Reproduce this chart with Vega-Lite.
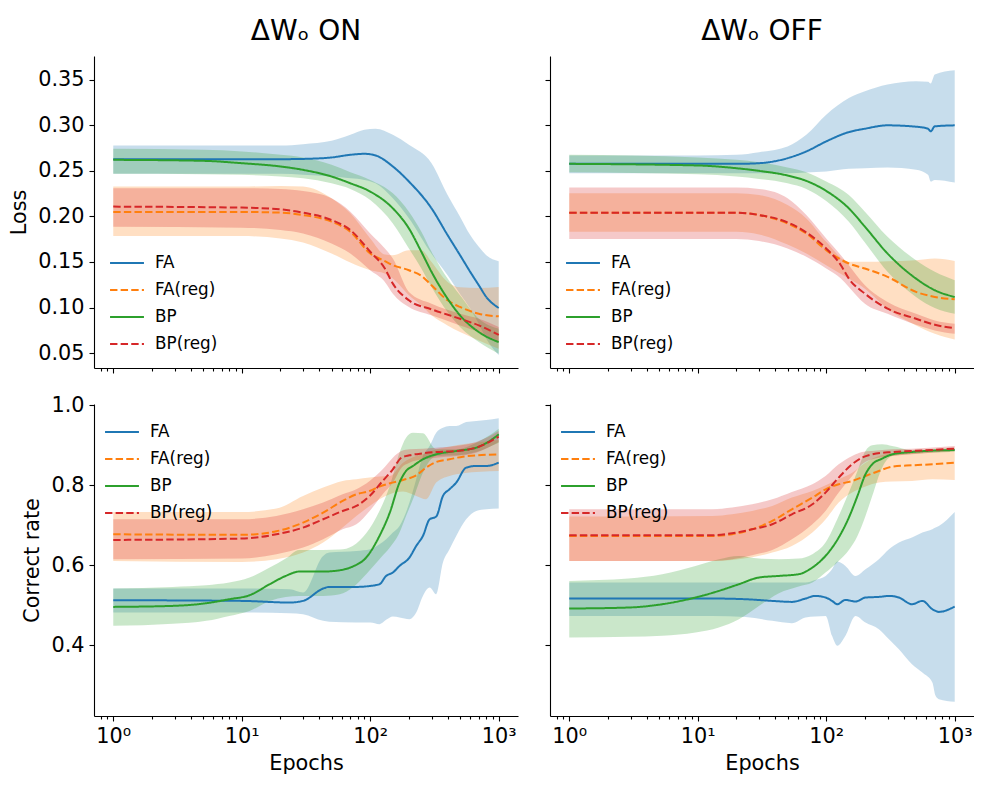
{
"$schema": "https://vega.github.io/schema/vega-lite/v6.json",
"background": "white",
"padding": {"left": 8, "top": 18, "right": 0, "bottom": 0},
"columns": 2,
"spacing": {"row": 20, "column": 26},
"config": {
  "view": {"stroke": null},
  "font": "DejaVu Sans",
  "axis": {"domainColor": "black", "tickColor": "black", "domainWidth": 1.1, "tickWidth": 1.1, "labelColor": "black", "titleColor": "black", "labelFont": "DejaVu Sans", "titleFont": "DejaVu Sans", "labelFontSize": 20.8, "titleFontSize": 20.8, "titleFontWeight": "normal", "grid": false, "tickSize": 5, "labelPadding": 5, "titlePadding": 8},
  "legend": {"symbolType": "stroke", "symbolSize": 1150, "symbolStrokeWidth": 2, "labelFontSize": 16.8, "labelFont": "DejaVu Sans", "labelColor": "black", "labelOffset": 10, "padding": 0, "rowPadding": -10},
  "title": {"font": "DejaVu Sans", "fontSize": 28, "fontWeight": "normal", "color": "black", "anchor": "middle", "baseline": "alphabetic", "offset": 10}
},
"resolve": {"scale": {"x": "independent", "y": "independent", "color": "independent", "fill": "independent", "strokeDash": "independent"}},
"datasets": {"d": [
{"panel":"a","series":"FA","epoch":1,"mean":0.2627,"lo":0.2466,"hi":0.2778},
{"panel":"a","series":"FA","epoch":10,"mean":0.2627,"lo":0.2466,"hi":0.2778},
{"panel":"a","series":"FA","epoch":20,"mean":0.2627,"lo":0.2466,"hi":0.2778},
{"panel":"a","series":"FA","epoch":30,"mean":0.263,"lo":0.2455,"hi":0.2792},
{"panel":"a","series":"FA","epoch":50,"mean":0.2646,"lo":0.2437,"hi":0.2829},
{"panel":"a","series":"FA","epoch":70,"mean":0.2675,"lo":0.2418,"hi":0.2895},
{"panel":"a","series":"FA","epoch":90,"mean":0.2686,"lo":0.240,"hi":0.295},
{"panel":"a","series":"FA","epoch":110,"mean":0.2668,"lo":0.2363,"hi":0.2961},
{"panel":"a","series":"FA","epoch":150,"mean":0.2547,"lo":0.2199,"hi":0.2895},
{"panel":"a","series":"FA","epoch":200,"mean":0.2382,"lo":0.198,"hi":0.2785},
{"panel":"a","series":"FA","epoch":300,"mean":0.2088,"lo":0.159,"hi":0.2583},
{"panel":"a","series":"FA","epoch":400,"mean":0.1795,"lo":0.1355,"hi":0.2235},
{"panel":"a","series":"FA","epoch":500,"mean":0.1575,"lo":0.115,"hi":0.1997},
{"panel":"a","series":"FA","epoch":600,"mean":0.1392,"lo":0.099,"hi":0.1795},
{"panel":"a","series":"FA","epoch":700,"mean":0.1245,"lo":0.082,"hi":0.1667},
{"panel":"a","series":"FA","epoch":800,"mean":0.1117,"lo":0.066,"hi":0.1575},
{"panel":"a","series":"FA","epoch":1000,"mean":0.0996,"lo":0.048,"hi":0.1509},
{"panel":"a","series":"FA(reg)","epoch":1,"mean":0.2048,"lo":0.1784,"hi":0.2327},
{"panel":"a","series":"FA(reg)","epoch":10,"mean":0.2048,"lo":0.1784,"hi":0.2327},
{"panel":"a","series":"FA(reg)","epoch":20,"mean":0.2041,"lo":0.1758,"hi":0.2334},
{"panel":"a","series":"FA(reg)","epoch":30,"mean":0.2015,"lo":0.1714,"hi":0.2327},
{"panel":"a","series":"FA(reg)","epoch":50,"mean":0.1942,"lo":0.1593,"hi":0.2198},
{"panel":"a","series":"FA(reg)","epoch":70,"mean":0.1832,"lo":0.1494,"hi":0.2033},
{"panel":"a","series":"FA(reg)","epoch":100,"mean":0.1593,"lo":0.141,"hi":0.1758},
{"panel":"a","series":"FA(reg)","epoch":130,"mean":0.1509,"lo":0.1373,"hi":0.1582},
{"panel":"a","series":"FA(reg)","epoch":150,"mean":0.1465,"lo":0.1318,"hi":0.1575},
{"panel":"a","series":"FA(reg)","epoch":200,"mean":0.141,"lo":0.1135,"hi":0.163},
{"panel":"a","series":"FA(reg)","epoch":250,"mean":0.1348,"lo":0.1025,"hi":0.163},
{"panel":"a","series":"FA(reg)","epoch":300,"mean":0.1245,"lo":0.0915,"hi":0.150},
{"panel":"a","series":"FA(reg)","epoch":400,"mean":0.108,"lo":0.0805,"hi":0.1282},
{"panel":"a","series":"FA(reg)","epoch":500,"mean":0.1007,"lo":0.0732,"hi":0.1223},
{"panel":"a","series":"FA(reg)","epoch":700,"mean":0.0933,"lo":0.064,"hi":0.1216},
{"panel":"a","series":"FA(reg)","epoch":1000,"mean":0.0904,"lo":0.0548,"hi":0.1227},
{"panel":"a","series":"BP","epoch":1,"mean":0.262,"lo":0.2466,"hi":0.2741},
{"panel":"a","series":"BP","epoch":5,"mean":0.2609,"lo":0.2462,"hi":0.273},
{"panel":"a","series":"BP","epoch":10,"mean":0.2583,"lo":0.2455,"hi":0.2712},
{"panel":"a","series":"BP","epoch":20,"mean":0.2547,"lo":0.2437,"hi":0.2675},
{"panel":"a","series":"BP","epoch":30,"mean":0.251,"lo":0.2418,"hi":0.2646},
{"panel":"a","series":"BP","epoch":50,"mean":0.2437,"lo":0.2363,"hi":0.2565},
{"panel":"a","series":"BP","epoch":70,"mean":0.2363,"lo":0.2301,"hi":0.2484},
{"panel":"a","series":"BP","epoch":100,"mean":0.2272,"lo":0.218,"hi":0.24},
{"panel":"a","series":"BP","epoch":150,"mean":0.2088,"lo":0.1923,"hi":0.2253},
{"panel":"a","series":"BP","epoch":200,"mean":0.1868,"lo":0.1648,"hi":0.2052},
{"panel":"a","series":"BP","epoch":250,"mean":0.1612,"lo":0.1428,"hi":0.1832},
{"panel":"a","series":"BP","epoch":300,"mean":0.1392,"lo":0.1227,"hi":0.1612},
{"panel":"a","series":"BP","epoch":400,"mean":0.1098,"lo":0.0951,"hi":0.1318},
{"panel":"a","series":"BP","epoch":500,"mean":0.0915,"lo":0.0787,"hi":0.1135},
{"panel":"a","series":"BP","epoch":700,"mean":0.0732,"lo":0.0622,"hi":0.0878},
{"panel":"a","series":"BP","epoch":1000,"mean":0.0622,"lo":0.0493,"hi":0.0768},
{"panel":"a","series":"BP(reg)","epoch":1,"mean":0.2107,"lo":0.1887,"hi":0.2308},
{"panel":"a","series":"BP(reg)","epoch":10,"mean":0.2096,"lo":0.1876,"hi":0.2308},
{"panel":"a","series":"BP(reg)","epoch":20,"mean":0.2077,"lo":0.185,"hi":0.2301},
{"panel":"a","series":"BP(reg)","epoch":30,"mean":0.2041,"lo":0.1813,"hi":0.2279},
{"panel":"a","series":"BP(reg)","epoch":50,"mean":0.196,"lo":0.1703,"hi":0.2198},
{"panel":"a","series":"BP(reg)","epoch":70,"mean":0.185,"lo":0.1593,"hi":0.2052},
{"panel":"a","series":"BP(reg)","epoch":100,"mean":0.1612,"lo":0.141,"hi":0.1813},
{"panel":"a","series":"BP(reg)","epoch":130,"mean":0.1428,"lo":0.1282,"hi":0.1648},
{"panel":"a","series":"BP(reg)","epoch":150,"mean":0.1263,"lo":0.1153,"hi":0.1538},
{"panel":"a","series":"BP(reg)","epoch":200,"mean":0.108,"lo":0.1007,"hi":0.1172},
{"panel":"a","series":"BP(reg)","epoch":300,"mean":0.0981,"lo":0.0915,"hi":0.1043},
{"panel":"a","series":"BP(reg)","epoch":500,"mean":0.0878,"lo":0.0805,"hi":0.0933},
{"panel":"a","series":"BP(reg)","epoch":700,"mean":0.0805,"lo":0.0732,"hi":0.0878},
{"panel":"a","series":"BP(reg)","epoch":1000,"mean":0.0702,"lo":0.0622,"hi":0.0787},
{"panel":"b","series":"FA","epoch":1,"mean":0.2576,"lo":0.2473,"hi":0.2668},
{"panel":"b","series":"FA","epoch":10,"mean":0.2576,"lo":0.2473,"hi":0.2668},
{"panel":"b","series":"FA","epoch":20,"mean":0.2576,"lo":0.2473,"hi":0.2675},
{"panel":"b","series":"FA","epoch":30,"mean":0.2583,"lo":0.2473,"hi":0.2704},
{"panel":"b","series":"FA","epoch":50,"mean":0.2638,"lo":0.2473,"hi":0.2767},
{"panel":"b","series":"FA","epoch":70,"mean":0.2712,"lo":0.2481,"hi":0.2895},
{"panel":"b","series":"FA","epoch":100,"mean":0.2822,"lo":0.2492,"hi":0.3115},
{"panel":"b","series":"FA","epoch":150,"mean":0.2924,"lo":0.2521,"hi":0.3298},
{"panel":"b","series":"FA","epoch":200,"mean":0.2961,"lo":0.2528,"hi":0.3372},
{"panel":"b","series":"FA","epoch":300,"mean":0.2998,"lo":0.2536,"hi":0.3445},
{"panel":"b","series":"FA","epoch":500,"mean":0.2983,"lo":0.251,"hi":0.3482},
{"panel":"b","series":"FA","epoch":620,"mean":0.2961,"lo":0.2455,"hi":0.3475},
{"panel":"b","series":"FA","epoch":650,"mean":0.2932,"lo":0.2382,"hi":0.3456},
{"panel":"b","series":"FA","epoch":700,"mean":0.2987,"lo":0.24,"hi":0.3555},
{"panel":"b","series":"FA","epoch":1000,"mean":0.2998,"lo":0.2371,"hi":0.3603},
{"panel":"b","series":"FA(reg)","epoch":1,"mean":0.2041,"lo":0.1832,"hi":0.2253},
{"panel":"b","series":"FA(reg)","epoch":20,"mean":0.2041,"lo":0.1832,"hi":0.2253},
{"panel":"b","series":"FA(reg)","epoch":30,"mean":0.2015,"lo":0.1802,"hi":0.2235},
{"panel":"b","series":"FA(reg)","epoch":50,"mean":0.1923,"lo":0.1692,"hi":0.2125},
{"panel":"b","series":"FA(reg)","epoch":70,"mean":0.1813,"lo":0.1593,"hi":0.1978},
{"panel":"b","series":"FA(reg)","epoch":100,"mean":0.163,"lo":0.1465,"hi":0.1722},
{"panel":"b","series":"FA(reg)","epoch":150,"mean":0.1483,"lo":0.1318,"hi":0.1502},
{"panel":"b","series":"FA(reg)","epoch":200,"mean":0.1428,"lo":0.1208,"hi":0.1502},
{"panel":"b","series":"FA(reg)","epoch":300,"mean":0.1337,"lo":0.0988,"hi":0.1509},
{"panel":"b","series":"FA(reg)","epoch":500,"mean":0.1172,"lo":0.0805,"hi":0.152},
{"panel":"b","series":"FA(reg)","epoch":700,"mean":0.1117,"lo":0.0713,"hi":0.1538},
{"panel":"b","series":"FA(reg)","epoch":1000,"mean":0.1091,"lo":0.0651,"hi":0.1512},
{"panel":"b","series":"BP","epoch":1,"mean":0.2576,"lo":0.2484,"hi":0.2675},
{"panel":"b","series":"BP","epoch":10,"mean":0.2558,"lo":0.2462,"hi":0.2646},
{"panel":"b","series":"BP","epoch":20,"mean":0.2528,"lo":0.2437,"hi":0.262},
{"panel":"b","series":"BP","epoch":30,"mean":0.2499,"lo":0.2411,"hi":0.2594},
{"panel":"b","series":"BP","epoch":50,"mean":0.2448,"lo":0.2363,"hi":0.2536},
{"panel":"b","series":"BP","epoch":70,"mean":0.2389,"lo":0.2301,"hi":0.2484},
{"panel":"b","series":"BP","epoch":100,"mean":0.2279,"lo":0.2169,"hi":0.2382},
{"panel":"b","series":"BP","epoch":150,"mean":0.2088,"lo":0.1942,"hi":0.2235},
{"panel":"b","series":"BP","epoch":200,"mean":0.1887,"lo":0.1714,"hi":0.2052},
{"panel":"b","series":"BP","epoch":300,"mean":0.1593,"lo":0.1392,"hi":0.1777},
{"panel":"b","series":"BP","epoch":500,"mean":0.1318,"lo":0.1117,"hi":0.152},
{"panel":"b","series":"BP","epoch":700,"mean":0.119,"lo":0.0996,"hi":0.1392},
{"panel":"b","series":"BP","epoch":1000,"mean":0.1117,"lo":0.0933,"hi":0.13},
{"panel":"b","series":"BP(reg)","epoch":1,"mean":0.2041,"lo":0.1751,"hi":0.2316},
{"panel":"b","series":"BP(reg)","epoch":20,"mean":0.2041,"lo":0.1751,"hi":0.2316},
{"panel":"b","series":"BP(reg)","epoch":30,"mean":0.2015,"lo":0.1729,"hi":0.2301},
{"panel":"b","series":"BP(reg)","epoch":50,"mean":0.1934,"lo":0.1648,"hi":0.2198},
{"panel":"b","series":"BP(reg)","epoch":70,"mean":0.1824,"lo":0.1557,"hi":0.2015},
{"panel":"b","series":"BP(reg)","epoch":100,"mean":0.1648,"lo":0.1428,"hi":0.1758},
{"panel":"b","series":"BP(reg)","epoch":130,"mean":0.1465,"lo":0.1318,"hi":0.1575},
{"panel":"b","series":"BP(reg)","epoch":150,"mean":0.1318,"lo":0.1227,"hi":0.1465},
{"panel":"b","series":"BP(reg)","epoch":200,"mean":0.1153,"lo":0.1043,"hi":0.1245},
{"panel":"b","series":"BP(reg)","epoch":300,"mean":0.0988,"lo":0.0933,"hi":0.1062},
{"panel":"b","series":"BP(reg)","epoch":500,"mean":0.0878,"lo":0.0812,"hi":0.0933},
{"panel":"b","series":"BP(reg)","epoch":700,"mean":0.0812,"lo":0.075,"hi":0.086},
{"panel":"b","series":"BP(reg)","epoch":1000,"mean":0.0775,"lo":0.0713,"hi":0.0823},
{"panel":"c","series":"FA","epoch":1,"mean":0.5125,"lo":0.4817,"hi":0.5417},
{"panel":"c","series":"FA","epoch":10,"mean":0.5108,"lo":0.4817,"hi":0.5417},
{"panel":"c","series":"FA","epoch":23.6,"mean":0.5067,"lo":0.48,"hi":0.54},
{"panel":"c","series":"FA","epoch":30,"mean":0.5108,"lo":0.4775,"hi":0.5317},
{"panel":"c","series":"FA","epoch":43,"mean":0.5417,"lo":0.4608,"hi":0.6233},
{"panel":"c","series":"FA","epoch":48,"mean":0.5458,"lo":0.4583,"hi":0.6317},
{"panel":"c","series":"FA","epoch":78,"mean":0.5458,"lo":0.4567,"hi":0.6358},
{"panel":"c","series":"FA","epoch":100,"mean":0.5483,"lo":0.4567,"hi":0.64},
{"panel":"c","series":"FA","epoch":118,"mean":0.5525,"lo":0.4525,"hi":0.6525},
{"panel":"c","series":"FA","epoch":133,"mean":0.5733,"lo":0.4633,"hi":0.665},
{"panel":"c","series":"FA","epoch":150,"mean":0.5817,"lo":0.4717,"hi":0.6817},
{"panel":"c","series":"FA","epoch":169,"mean":0.5983,"lo":0.4692,"hi":0.6983},
{"panel":"c","series":"FA","epoch":202,"mean":0.6192,"lo":0.465,"hi":0.7567},
{"panel":"c","series":"FA","epoch":228,"mean":0.6483,"lo":0.4817,"hi":0.815},
{"panel":"c","series":"FA","epoch":257,"mean":0.6733,"lo":0.5233,"hi":0.8733},
{"panel":"c","series":"FA","epoch":290,"mean":0.715,"lo":0.5442,"hi":0.8983},
{"panel":"c","series":"FA","epoch":326,"mean":0.7217,"lo":0.5275,"hi":0.9317},
{"panel":"c","series":"FA","epoch":368,"mean":0.7733,"lo":0.6067,"hi":0.9442},
{"panel":"c","series":"FA","epoch":414,"mean":0.79,"lo":0.64,"hi":0.9483},
{"panel":"c","series":"FA","epoch":467,"mean":0.8067,"lo":0.6733,"hi":0.9483},
{"panel":"c","series":"FA","epoch":558,"mean":0.8442,"lo":0.715,"hi":0.9583},
{"panel":"c","series":"FA","epoch":668,"mean":0.8483,"lo":0.7358,"hi":0.9608},
{"panel":"c","series":"FA","epoch":800,"mean":0.8483,"lo":0.74,"hi":0.9633},
{"panel":"c","series":"FA","epoch":1000,"mean":0.8567,"lo":0.7417,"hi":0.9675},
{"panel":"c","series":"FA(reg)","epoch":1,"mean":0.6775,"lo":0.6108,"hi":0.7333},
{"panel":"c","series":"FA(reg)","epoch":10,"mean":0.676,"lo":0.6083,"hi":0.7333},
{"panel":"c","series":"FA(reg)","epoch":18.6,"mean":0.685,"lo":0.615,"hi":0.7417},
{"panel":"c","series":"FA(reg)","epoch":30,"mean":0.7067,"lo":0.6317,"hi":0.7733},
{"panel":"c","series":"FA(reg)","epoch":43,"mean":0.7317,"lo":0.6567,"hi":0.7942},
{"panel":"c","series":"FA(reg)","epoch":61,"mean":0.7608,"lo":0.6942,"hi":0.8108},
{"panel":"c","series":"FA(reg)","epoch":78,"mean":0.7775,"lo":0.7233,"hi":0.815},
{"panel":"c","series":"FA(reg)","epoch":99,"mean":0.7858,"lo":0.7483,"hi":0.8192},
{"panel":"c","series":"FA(reg)","epoch":118,"mean":0.7967,"lo":0.765,"hi":0.8217},
{"panel":"c","series":"FA(reg)","epoch":142,"mean":0.805,"lo":0.7775,"hi":0.8233},
{"panel":"c","series":"FA(reg)","epoch":180,"mean":0.8133,"lo":0.7842,"hi":0.8567},
{"panel":"c","series":"FA(reg)","epoch":228,"mean":0.825,"lo":0.7733,"hi":0.8733},
{"panel":"c","series":"FA(reg)","epoch":272,"mean":0.8442,"lo":0.765,"hi":0.88},
{"panel":"c","series":"FA(reg)","epoch":326,"mean":0.8583,"lo":0.8067,"hi":0.89},
{"panel":"c","series":"FA(reg)","epoch":414,"mean":0.865,"lo":0.8233,"hi":0.8967},
{"panel":"c","series":"FA(reg)","epoch":526,"mean":0.8717,"lo":0.83,"hi":0.9025},
{"panel":"c","series":"FA(reg)","epoch":1000,"mean":0.8775,"lo":0.8358,"hi":0.9133},
{"panel":"c","series":"BP","epoch":1,"mean":0.4958,"lo":0.4483,"hi":0.5417},
{"panel":"c","series":"BP","epoch":2.9,"mean":0.4983,"lo":0.4533,"hi":0.5458},
{"panel":"c","series":"BP","epoch":5.3,"mean":0.505,"lo":0.4608,"hi":0.55},
{"panel":"c","series":"BP","epoch":8,"mean":0.515,"lo":0.4733,"hi":0.5567},
{"panel":"c","series":"BP","epoch":11.5,"mean":0.525,"lo":0.4858,"hi":0.5692},
{"panel":"c","series":"BP","epoch":16.5,"mean":0.5525,"lo":0.5108,"hi":0.5942},
{"panel":"c","series":"BP","epoch":22,"mean":0.5733,"lo":0.5208,"hi":0.6167},
{"panel":"c","series":"BP","epoch":28,"mean":0.5842,"lo":0.5233,"hi":0.6383},
{"panel":"c","series":"BP","epoch":43,"mean":0.5842,"lo":0.5233,"hi":0.6383},
{"panel":"c","series":"BP","epoch":58,"mean":0.5875,"lo":0.5275,"hi":0.6392},
{"panel":"c","series":"BP","epoch":73,"mean":0.5967,"lo":0.5442,"hi":0.6483},
{"panel":"c","series":"BP","epoch":93,"mean":0.6192,"lo":0.5775,"hi":0.68},
{"panel":"c","series":"BP","epoch":118,"mean":0.6733,"lo":0.615,"hi":0.7358},
{"panel":"c","series":"BP","epoch":142,"mean":0.7317,"lo":0.6442,"hi":0.7983},
{"panel":"c","series":"BP","epoch":169,"mean":0.8067,"lo":0.6817,"hi":0.8817},
{"panel":"c","series":"BP","epoch":190,"mean":0.8358,"lo":0.7233,"hi":0.9192},
{"panel":"c","series":"BP","epoch":215,"mean":0.8483,"lo":0.765,"hi":0.9317},
{"panel":"c","series":"BP","epoch":257,"mean":0.865,"lo":0.8317,"hi":0.93},
{"panel":"c","series":"BP","epoch":326,"mean":0.8775,"lo":0.8733,"hi":0.89},
{"panel":"c","series":"BP","epoch":467,"mean":0.8858,"lo":0.875,"hi":0.89},
{"panel":"c","series":"BP","epoch":668,"mean":0.8942,"lo":0.8833,"hi":0.9067},
{"panel":"c","series":"BP","epoch":850,"mean":0.9108,"lo":0.8967,"hi":0.925},
{"panel":"c","series":"BP","epoch":1000,"mean":0.9275,"lo":0.9067,"hi":0.9417},
{"panel":"c","series":"BP(reg)","epoch":1,"mean":0.6633,"lo":0.615,"hi":0.715},
{"panel":"c","series":"BP(reg)","epoch":10,"mean":0.6667,"lo":0.6167,"hi":0.715},
{"panel":"c","series":"BP(reg)","epoch":18.6,"mean":0.6775,"lo":0.6275,"hi":0.7233},
{"panel":"c","series":"BP(reg)","epoch":30,"mean":0.6942,"lo":0.6442,"hi":0.74},
{"panel":"c","series":"BP(reg)","epoch":43,"mean":0.715,"lo":0.665,"hi":0.7567},
{"panel":"c","series":"BP(reg)","epoch":61,"mean":0.7358,"lo":0.69,"hi":0.7775},
{"panel":"c","series":"BP(reg)","epoch":78,"mean":0.7483,"lo":0.7025,"hi":0.79},
{"panel":"c","series":"BP(reg)","epoch":99,"mean":0.7733,"lo":0.7358,"hi":0.8108},
{"panel":"c","series":"BP(reg)","epoch":125,"mean":0.8108,"lo":0.7775,"hi":0.84},
{"panel":"c","series":"BP(reg)","epoch":150,"mean":0.84,"lo":0.8067,"hi":0.8692},
{"panel":"c","series":"BP(reg)","epoch":175,"mean":0.8692,"lo":0.8442,"hi":0.8858},
{"panel":"c","series":"BP(reg)","epoch":202,"mean":0.875,"lo":0.8567,"hi":0.89},
{"panel":"c","series":"BP(reg)","epoch":257,"mean":0.88,"lo":0.865,"hi":0.8917},
{"panel":"c","series":"BP(reg)","epoch":326,"mean":0.8833,"lo":0.8692,"hi":0.8942},
{"panel":"c","series":"BP(reg)","epoch":467,"mean":0.8858,"lo":0.8733,"hi":0.8983},
{"panel":"c","series":"BP(reg)","epoch":668,"mean":0.8942,"lo":0.8817,"hi":0.9083},
{"panel":"c","series":"BP(reg)","epoch":1000,"mean":0.9217,"lo":0.9083,"hi":0.9358},
{"panel":"d","series":"FA","epoch":1,"mean":0.5167,"lo":0.4733,"hi":0.5567},
{"panel":"d","series":"FA","epoch":12.9,"mean":0.5167,"lo":0.4733,"hi":0.5567},
{"panel":"d","series":"FA","epoch":23.5,"mean":0.515,"lo":0.4708,"hi":0.5567},
{"panel":"d","series":"FA","epoch":38,"mean":0.5108,"lo":0.4608,"hi":0.5567},
{"panel":"d","series":"FA","epoch":54,"mean":0.5083,"lo":0.455,"hi":0.5567},
{"panel":"d","series":"FA","epoch":69,"mean":0.5167,"lo":0.4692,"hi":0.5567},
{"panel":"d","series":"FA","epoch":82,"mean":0.5233,"lo":0.4717,"hi":0.5633},
{"panel":"d","series":"FA","epoch":99,"mean":0.5192,"lo":0.4733,"hi":0.5733},
{"panel":"d","series":"FA","epoch":111,"mean":0.5108,"lo":0.4233,"hi":0.59},
{"panel":"d","series":"FA","epoch":122,"mean":0.5025,"lo":0.3983,"hi":0.6092},
{"panel":"d","series":"FA","epoch":141,"mean":0.5133,"lo":0.4233,"hi":0.5983},
{"panel":"d","series":"FA","epoch":169,"mean":0.5092,"lo":0.4733,"hi":0.5733},
{"panel":"d","series":"FA","epoch":202,"mean":0.5192,"lo":0.4567,"hi":0.59},
{"panel":"d","series":"FA","epoch":257,"mean":0.5208,"lo":0.44,"hi":0.615},
{"panel":"d","series":"FA","epoch":308,"mean":0.5233,"lo":0.415,"hi":0.64},
{"panel":"d","series":"FA","epoch":368,"mean":0.5192,"lo":0.39,"hi":0.6567},
{"panel":"d","series":"FA","epoch":465,"mean":0.5025,"lo":0.3525,"hi":0.6692},
{"panel":"d","series":"FA","epoch":560,"mean":0.5108,"lo":0.3317,"hi":0.6817},
{"panel":"d","series":"FA","epoch":670,"mean":0.49,"lo":0.3067,"hi":0.69},
{"panel":"d","series":"FA","epoch":710,"mean":0.4858,"lo":0.2733,"hi":0.6942},
{"panel":"d","series":"FA","epoch":753,"mean":0.4833,"lo":0.265,"hi":0.6983},
{"panel":"d","series":"FA","epoch":1000,"mean":0.4967,"lo":0.2583,"hi":0.7333},
{"panel":"d","series":"FA(reg)","epoch":1,"mean":0.6733,"lo":0.6108,"hi":0.7217},
{"panel":"d","series":"FA(reg)","epoch":13,"mean":0.6733,"lo":0.6108,"hi":0.7233},
{"panel":"d","series":"FA(reg)","epoch":18.5,"mean":0.6775,"lo":0.6133,"hi":0.7275},
{"panel":"d","series":"FA(reg)","epoch":26.5,"mean":0.69,"lo":0.62,"hi":0.7358},
{"panel":"d","series":"FA(reg)","epoch":38,"mean":0.7108,"lo":0.6317,"hi":0.7483},
{"panel":"d","series":"FA(reg)","epoch":54,"mean":0.74,"lo":0.6483,"hi":0.7692},
{"panel":"d","series":"FA(reg)","epoch":78,"mean":0.7692,"lo":0.6817,"hi":0.7858},
{"panel":"d","series":"FA(reg)","epoch":99,"mean":0.79,"lo":0.715,"hi":0.80},
{"panel":"d","series":"FA(reg)","epoch":125,"mean":0.8025,"lo":0.7567,"hi":0.815},
{"panel":"d","series":"FA(reg)","epoch":159,"mean":0.8108,"lo":0.7817,"hi":0.8317},
{"panel":"d","series":"FA(reg)","epoch":202,"mean":0.8233,"lo":0.7967,"hi":0.8567},
{"panel":"d","series":"FA(reg)","epoch":257,"mean":0.8358,"lo":0.8067,"hi":0.8733},
{"panel":"d","series":"FA(reg)","epoch":326,"mean":0.8467,"lo":0.8092,"hi":0.88},
{"panel":"d","series":"FA(reg)","epoch":465,"mean":0.85,"lo":0.8108,"hi":0.8833},
{"panel":"d","series":"FA(reg)","epoch":670,"mean":0.8525,"lo":0.815,"hi":0.885},
{"panel":"d","series":"FA(reg)","epoch":1000,"mean":0.8567,"lo":0.8133,"hi":0.8858},
{"panel":"d","series":"BP","epoch":1,"mean":0.4917,"lo":0.4192,"hi":0.5608},
{"panel":"d","series":"BP","epoch":2.9,"mean":0.4942,"lo":0.4208,"hi":0.5667},
{"panel":"d","series":"BP","epoch":5.3,"mean":0.5025,"lo":0.4233,"hi":0.5775},
{"panel":"d","series":"BP","epoch":9.6,"mean":0.5192,"lo":0.4317,"hi":0.5983},
{"panel":"d","series":"BP","epoch":14.6,"mean":0.5358,"lo":0.4442,"hi":0.615},
{"panel":"d","series":"BP","epoch":20.9,"mean":0.5525,"lo":0.465,"hi":0.6233},
{"panel":"d","series":"BP","epoch":29.9,"mean":0.5692,"lo":0.4983,"hi":0.6167},
{"panel":"d","series":"BP","epoch":42.8,"mean":0.5733,"lo":0.53,"hi":0.615},
{"panel":"d","series":"BP","epoch":61,"mean":0.5775,"lo":0.5467,"hi":0.6167},
{"panel":"d","series":"BP","epoch":78,"mean":0.5942,"lo":0.5567,"hi":0.6275},
{"panel":"d","series":"BP","epoch":98.7,"mean":0.6233,"lo":0.5817,"hi":0.6567},
{"panel":"d","series":"BP","epoch":125,"mean":0.6692,"lo":0.6108,"hi":0.7233},
{"panel":"d","series":"BP","epoch":150,"mean":0.7192,"lo":0.6383,"hi":0.7817},
{"panel":"d","series":"BP","epoch":175,"mean":0.7733,"lo":0.6733,"hi":0.8358},
{"panel":"d","series":"BP","epoch":202,"mean":0.8275,"lo":0.7233,"hi":0.8858},
{"panel":"d","series":"BP","epoch":228,"mean":0.8525,"lo":0.7733,"hi":0.90},
{"panel":"d","series":"BP","epoch":272,"mean":0.8667,"lo":0.8442,"hi":0.9025},
{"panel":"d","series":"BP","epoch":326,"mean":0.8775,"lo":0.8733,"hi":0.8983},
{"panel":"d","series":"BP","epoch":465,"mean":0.8833,"lo":0.8783,"hi":0.8883},
{"panel":"d","series":"BP","epoch":1000,"mean":0.8883,"lo":0.8842,"hi":0.8925},
{"panel":"d","series":"BP(reg)","epoch":1,"mean":0.675,"lo":0.6108,"hi":0.74},
{"panel":"d","series":"BP(reg)","epoch":12.9,"mean":0.675,"lo":0.6108,"hi":0.74},
{"panel":"d","series":"BP(reg)","epoch":18.5,"mean":0.68,"lo":0.615,"hi":0.7442},
{"panel":"d","series":"BP(reg)","epoch":26.5,"mean":0.69,"lo":0.625,"hi":0.7525},
{"panel":"d","series":"BP(reg)","epoch":38,"mean":0.7025,"lo":0.6383,"hi":0.765},
{"panel":"d","series":"BP(reg)","epoch":54,"mean":0.7275,"lo":0.665,"hi":0.7833},
{"panel":"d","series":"BP(reg)","epoch":78,"mean":0.7525,"lo":0.7025,"hi":0.8025},
{"panel":"d","series":"BP(reg)","epoch":98.7,"mean":0.7817,"lo":0.7358,"hi":0.8233},
{"panel":"d","series":"BP(reg)","epoch":125,"mean":0.8192,"lo":0.7817,"hi":0.8525},
{"panel":"d","series":"BP(reg)","epoch":159,"mean":0.8525,"lo":0.8233,"hi":0.8733},
{"panel":"d","series":"BP(reg)","epoch":190,"mean":0.8692,"lo":0.8525,"hi":0.8833},
{"panel":"d","series":"BP(reg)","epoch":228,"mean":0.8775,"lo":0.865,"hi":0.8858},
{"panel":"d","series":"BP(reg)","epoch":326,"mean":0.8833,"lo":0.8733,"hi":0.89},
{"panel":"d","series":"BP(reg)","epoch":465,"mean":0.8858,"lo":0.8775,"hi":0.8917},
{"panel":"d","series":"BP(reg)","epoch":1000,"mean":0.8917,"lo":0.8858,"hi":0.8983}
]},
"concat": [
{
 "width": 424, "height": 312,
 "title": {"text": "ΔWₒ ON"},
 "data": {"name": "d"},
 "transform": [{"filter": "datum.panel == 'a'"}],
 "layer": [
  {"mark": {"type": "area", "opacity": 0.25, "interpolate": "monotone"},
   "encoding": {
    "x": {"field": "epoch", "type": "quantitative", "scale": {"type": "log", "domain": [0.708, 1413], "nice": false}, "axis": {"values": [0.8,0.9,1,2,3,4,5,6,7,8,9,10,20,30,40,50,60,70,80,90,100,200,300,400,500,600,700,800,900,1000], "labels": false, "title": null, "tickSize": {"condition": {"test": "datum.value == 1 || datum.value == 10 || datum.value == 100 || datum.value == 1000", "value": 5}, "value": 3}}},
    "y": {"field": "lo", "type": "quantitative", "scale": {"domain": [0.0338, 0.3758], "nice": false, "zero": false}, "axis": {"values": [0.05,0.1,0.15,0.2,0.25,0.3,0.35], "format": ".2f", "title": "Loss"}},
    "y2": {"field": "hi"},
    "fill": {"field": "series", "type": "nominal", "scale": {"domain": ["BP","BP(reg)","FA","FA(reg)"], "range": ["#2ca02c","#d62728","#1f77b4","#ff7f0e"]}, "legend": null}
   }},
  {"mark": {"type": "line", "strokeWidth": 2, "interpolate": "monotone"},
   "encoding": {
    "x": {"field": "epoch", "type": "quantitative"},
    "y": {"field": "mean", "type": "quantitative"},
    "color": {"field": "series", "type": "nominal", "scale": {"domain": ["FA","FA(reg)","BP","BP(reg)"], "range": ["#1f77b4","#ff7f0e","#2ca02c","#d62728"]}, "legend": {"orient": "bottom-left", "title": null, "offset": 15}},
    "strokeDash": {"field": "series", "type": "nominal", "scale": {"domain": ["FA","FA(reg)","BP","BP(reg)"], "range": [[1,0],[7.4,3.2],[1,0],[7.4,3.2]]}, "legend": {"orient": "bottom-left", "title": null, "offset": 15}}
   }}
 ]
},
{
 "width": 424, "height": 312,
 "title": {"text": "ΔWₒ OFF"},
 "data": {"name": "d"},
 "transform": [{"filter": "datum.panel == 'b'"}],
 "layer": [
  {"mark": {"type": "area", "opacity": 0.25, "interpolate": "monotone"},
   "encoding": {
    "x": {"field": "epoch", "type": "quantitative", "scale": {"type": "log", "domain": [0.708, 1413], "nice": false}, "axis": {"values": [0.8,0.9,1,2,3,4,5,6,7,8,9,10,20,30,40,50,60,70,80,90,100,200,300,400,500,600,700,800,900,1000], "labels": false, "title": null, "tickSize": {"condition": {"test": "datum.value == 1 || datum.value == 10 || datum.value == 100 || datum.value == 1000", "value": 5}, "value": 3}}},
    "y": {"field": "lo", "type": "quantitative", "scale": {"domain": [0.0338, 0.3758], "nice": false, "zero": false}, "axis": {"values": [0.05,0.1,0.15,0.2,0.25,0.3,0.35], "labels": false, "title": null}},
    "y2": {"field": "hi"},
    "fill": {"field": "series", "type": "nominal", "scale": {"domain": ["BP","BP(reg)","FA","FA(reg)"], "range": ["#2ca02c","#d62728","#1f77b4","#ff7f0e"]}, "legend": null}
   }},
  {"mark": {"type": "line", "strokeWidth": 2, "interpolate": "monotone"},
   "encoding": {
    "x": {"field": "epoch", "type": "quantitative"},
    "y": {"field": "mean", "type": "quantitative"},
    "color": {"field": "series", "type": "nominal", "scale": {"domain": ["FA","FA(reg)","BP","BP(reg)"], "range": ["#1f77b4","#ff7f0e","#2ca02c","#d62728"]}, "legend": {"orient": "bottom-left", "title": null, "offset": 15}},
    "strokeDash": {"field": "series", "type": "nominal", "scale": {"domain": ["FA","FA(reg)","BP","BP(reg)"], "range": [[1,0],[7.4,3.2],[1,0],[7.4,3.2]]}, "legend": {"orient": "bottom-left", "title": null, "offset": 15}}
   }}
 ]
},
{
 "width": 424, "height": 312,
 "data": {"name": "d"},
 "transform": [{"filter": "datum.panel == 'c'"}],
 "layer": [
  {"mark": {"type": "area", "opacity": 0.25, "interpolate": "monotone"},
   "encoding": {
    "x": {"field": "epoch", "type": "quantitative", "scale": {"type": "log", "domain": [0.708, 1413], "nice": false}, "axis": {"values": [0.8,0.9,1,2,3,4,5,6,7,8,9,10,20,30,40,50,60,70,80,90,100,200,300,400,500,600,700,800,900,1000], "title": "Epochs", "labelOverlap": false, "labelFlush": false, "labelExpr": "datum.value == 1 ? '10⁰' : datum.value == 10 ? '10¹' : datum.value == 100 ? '10²' : datum.value == 1000 ? '10³' : ''", "tickSize": {"condition": {"test": "datum.value == 1 || datum.value == 10 || datum.value == 100 || datum.value == 1000", "value": 5}, "value": 3}}},
    "y": {"field": "lo", "type": "quantitative", "scale": {"domain": [0.2228, 1.0034], "nice": false, "zero": false}, "axis": {"values": [0.4,0.6,0.8,1.0], "format": ".1f", "title": "Correct rate"}},
    "y2": {"field": "hi"},
    "fill": {"field": "series", "type": "nominal", "scale": {"domain": ["BP","BP(reg)","FA","FA(reg)"], "range": ["#2ca02c","#d62728","#1f77b4","#ff7f0e"]}, "legend": null}
   }},
  {"mark": {"type": "line", "strokeWidth": 2, "interpolate": "monotone"},
   "encoding": {
    "x": {"field": "epoch", "type": "quantitative"},
    "y": {"field": "mean", "type": "quantitative"},
    "color": {"field": "series", "type": "nominal", "scale": {"domain": ["FA","FA(reg)","BP","BP(reg)"], "range": ["#1f77b4","#ff7f0e","#2ca02c","#d62728"]}, "legend": {"orient": "top-left", "title": null, "offset": 10}},
    "strokeDash": {"field": "series", "type": "nominal", "scale": {"domain": ["FA","FA(reg)","BP","BP(reg)"], "range": [[1,0],[7.4,3.2],[1,0],[7.4,3.2]]}, "legend": {"orient": "top-left", "title": null, "offset": 10}}
   }}
 ]
},
{
 "width": 424, "height": 312,
 "data": {"name": "d"},
 "transform": [{"filter": "datum.panel == 'd'"}],
 "layer": [
  {"mark": {"type": "area", "opacity": 0.25, "interpolate": "monotone"},
   "encoding": {
    "x": {"field": "epoch", "type": "quantitative", "scale": {"type": "log", "domain": [0.708, 1413], "nice": false}, "axis": {"values": [0.8,0.9,1,2,3,4,5,6,7,8,9,10,20,30,40,50,60,70,80,90,100,200,300,400,500,600,700,800,900,1000], "title": "Epochs", "labelOverlap": false, "labelFlush": false, "labelExpr": "datum.value == 1 ? '10⁰' : datum.value == 10 ? '10¹' : datum.value == 100 ? '10²' : datum.value == 1000 ? '10³' : ''", "tickSize": {"condition": {"test": "datum.value == 1 || datum.value == 10 || datum.value == 100 || datum.value == 1000", "value": 5}, "value": 3}}},
    "y": {"field": "lo", "type": "quantitative", "scale": {"domain": [0.2228, 1.0034], "nice": false, "zero": false}, "axis": {"values": [0.4,0.6,0.8,1.0], "labels": false, "title": null}},
    "y2": {"field": "hi"},
    "fill": {"field": "series", "type": "nominal", "scale": {"domain": ["BP","BP(reg)","FA","FA(reg)"], "range": ["#2ca02c","#d62728","#1f77b4","#ff7f0e"]}, "legend": null}
   }},
  {"mark": {"type": "line", "strokeWidth": 2, "interpolate": "monotone"},
   "encoding": {
    "x": {"field": "epoch", "type": "quantitative"},
    "y": {"field": "mean", "type": "quantitative"},
    "color": {"field": "series", "type": "nominal", "scale": {"domain": ["FA","FA(reg)","BP","BP(reg)"], "range": ["#1f77b4","#ff7f0e","#2ca02c","#d62728"]}, "legend": {"orient": "top-left", "title": null, "offset": 10}},
    "strokeDash": {"field": "series", "type": "nominal", "scale": {"domain": ["FA","FA(reg)","BP","BP(reg)"], "range": [[1,0],[7.4,3.2],[1,0],[7.4,3.2]]}, "legend": {"orient": "top-left", "title": null, "offset": 10}}
   }}
 ]
}
]
}
